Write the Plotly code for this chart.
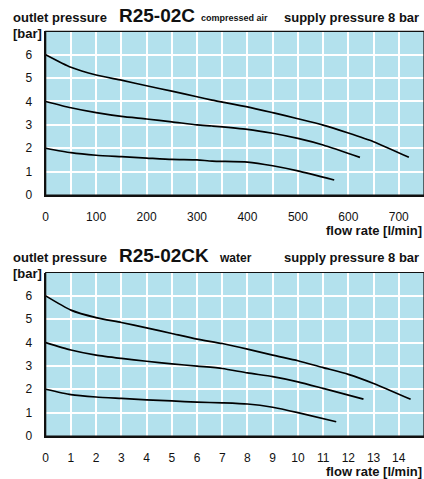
import plotly.graph_objects as go

# ---- data: compressed air (top chart) ----
air_x6 = [0, 50, 100, 150, 200, 250, 300, 330, 400, 450, 500, 550, 600, 650, 720]
air_y6 = [6.0, 5.46, 5.13, 4.91, 4.67, 4.44, 4.2, 4.06, 3.77, 3.52, 3.26, 2.99, 2.65, 2.28, 1.61]
air_x4 = [0, 50, 100, 150, 200, 250, 300, 330, 400, 450, 500, 550, 623]
air_y4 = [4.0, 3.73, 3.52, 3.36, 3.25, 3.13, 3.0, 2.95, 2.81, 2.64, 2.42, 2.14, 1.61]
air_x2 = [0, 50, 100, 150, 200, 250, 300, 330, 400, 450, 500, 572]
air_y2 = [2.0, 1.81, 1.7, 1.64, 1.58, 1.52, 1.5, 1.45, 1.41, 1.25, 1.03, 0.64]

# ---- data: water (bottom chart) ----
wat_x6 = [0, 1, 2, 3, 4, 5, 6, 7, 8, 9, 10, 11, 12, 13, 14.47]
wat_y6 = [6.0, 5.39, 5.07, 4.86, 4.63, 4.39, 4.15, 3.96, 3.72, 3.46, 3.22, 2.93, 2.64, 2.25, 1.57]
wat_x4 = [0, 1, 2, 3, 4, 5, 6, 7, 8, 9, 10, 11, 12.6]
wat_y4 = [4.0, 3.68, 3.46, 3.32, 3.2, 3.09, 2.99, 2.89, 2.7, 2.54, 2.32, 2.04, 1.58]
wat_x2 = [0, 1, 2, 3, 4, 5, 6, 7, 8, 9, 10, 11.52]
wat_y2 = [2.0, 1.77, 1.67, 1.61, 1.55, 1.5, 1.45, 1.42, 1.37, 1.23, 1.0, 0.61]

air_ticks = [0, 100, 200, 300, 400, 500, 600, 700]
air_minor = [50, 150, 250, 350, 450, 550, 650, 750]
wat_ticks = list(range(0, 15))
y_ticks = [0, 1, 2, 3, 4, 5, 6]

W, H = 424, 479
BG = "#b3e1ed"
FONT = "Liberation Sans, Arial, sans-serif"

def py(px):
    return 1 - px / H

def pxx(px):
    return px / W

fig = go.Figure()
line = dict(color="black", width=1.7, shape="spline", smoothing=0.6)
for xs, ys in [(air_x6, air_y6), (air_x4, air_y4), (air_x2, air_y2)]:
    fig.add_trace(go.Scatter(x=xs, y=ys, mode="lines", line=line, xaxis="x", yaxis="y",
                             showlegend=False, hoverinfo="skip"))
for xs, ys in [(wat_x6, wat_y6), (wat_x4, wat_y4), (wat_x2, wat_y2)]:
    fig.add_trace(go.Scatter(x=xs, y=ys, mode="lines", line=line, xaxis="x2", yaxis="y2",
                             showlegend=False, hoverinfo="skip"))

x0 = pxx(45.7)
ax_common = dict(showgrid=True, gridcolor="white", gridwidth=1.5, zeroline=False,
                 showline=True, linecolor="#111", linewidth=2, ticks="", automargin=False,
                 tickfont=dict(family=FONT, size=12, color="#111"), fixedrange=True)

fig.update_layout(
    width=W, height=H, autosize=False, margin=dict(l=0, r=0, t=0, b=0, pad=0),
    paper_bgcolor="white", plot_bgcolor=BG, showlegend=False,
    xaxis=dict(domain=[x0, 1], range=[0, 750], tickvals=air_ticks,
               minor=dict(tickvals=air_minor, showgrid=True, gridcolor="white", gridwidth=1.5),
               anchor="y", ticklabelstandoff=10, **ax_common),
    yaxis=dict(domain=[py(195), py(31.3)], range=[0, 7], tickvals=y_ticks,
               anchor="x", ticklabelstandoff=9, **ax_common),
    xaxis2=dict(domain=[x0, 1], range=[0, 15], tickvals=wat_ticks,
                anchor="y2", ticklabelstandoff=10, **ax_common),
    yaxis2=dict(domain=[py(436), py(272.5)], range=[0, 7], tickvals=y_ticks,
                anchor="x2", ticklabelstandoff=9, **ax_common),
)

# frames (thin top/right borders)
for xr, yr in [("x", "y"), ("x2", "y2")]:
    fig.add_shape(type="rect", xref=f"{xr} domain", yref=f"{yr} domain",
                  x0=0, x1=1, y0=0, y1=1, line=dict(color="#111", width=1.2))

def txt(x, y, s, size, bold=True, anchor="left"):
    fig.add_annotation(x=pxx(x), y=py(y), xref="paper", yref="paper", text=(f"<b>{s}</b>" if bold else s),
                       showarrow=False, xanchor=anchor, yanchor="middle",
                       font=dict(family=FONT, size=size, color="#111"))

for dy, model, medium, msize, mx in [(0, "R25-02C", "compressed air", 9, 199), (240, "R25-02CK", "water", 12, 217)]:
    txt(11, 17 + dy, "outlet pressure", 13)
    txt(117, 16 + dy, model, 19)
    txt(mx, 18 + dy, medium, msize)
    txt(282, 17 + dy, "supply pressure 8 bar", 13)
    txt(11, 33 + dy, "[bar]", 13)
    txt(324, 231 + dy, "flow rate [l/min]", 13)

fig.write_html("out.html", config={"displayModeBar": False},
               post_script="document.body.style.margin='0';document.body.style.overflow='hidden';")
